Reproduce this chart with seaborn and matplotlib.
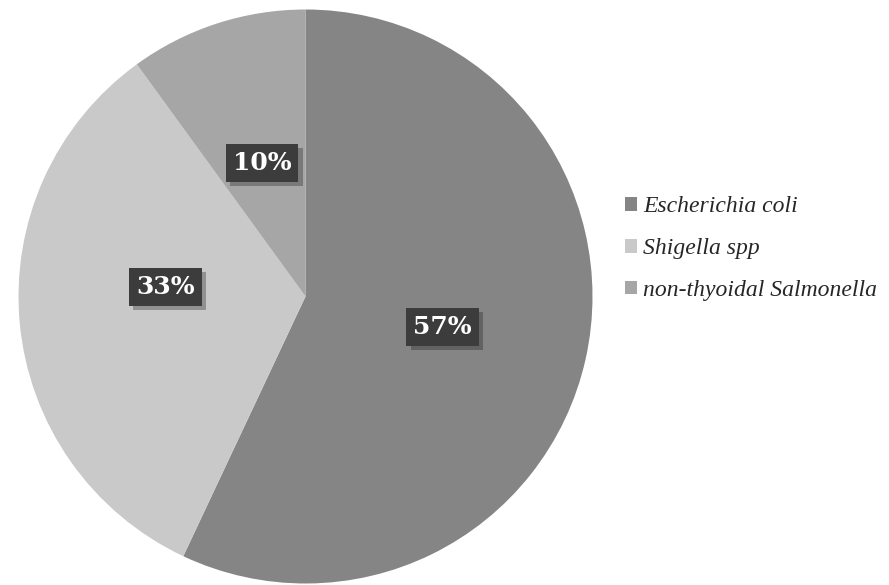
import matplotlib
matplotlib.use("Agg")
import matplotlib.pyplot as plt
import seaborn as sns
from matplotlib import patheffects as pe
from matplotlib.font_manager import FontProperties

sns.set_theme(style="white")

categories = ["Escherichia coli", "Shigella spp", "non-thyoidal Salmonella"]
values = [57, 33, 10]
colors = ["#858585", "#c9c9c9", "#a6a6a6"]

W, H = 889, 585
fig = plt.figure(figsize=(W / 100, H / 100), dpi=100)
fig.patch.set_facecolor("white")

cx, cy, r = 305.5, 296.5, 287
ax = fig.add_axes([(cx - r) / W, (H - cy - r) / H, 2 * r / W, 2 * r / H])
ax.set_facecolor("none")

wedges, texts, autotexts = ax.pie(
    values, colors=colors, startangle=90, counterclock=False,
    autopct=lambda p: f"{p:.0f}%", pctdistance=0.49,
    wedgeprops=dict(linewidth=0, edgecolor="none"),
    textprops=dict(color="white", fontsize=18, fontweight="bold",
                   family=["DejaVu Serif"]),
)
ax.set_xlim(-1, 1)
ax.set_ylim(-1, 1)
ax.set_aspect("equal")
ax.axis("off")

for t in autotexts:
    t.set_bbox(dict(boxstyle="square,pad=0.28", facecolor="#3c3c3c", edgecolor="none"))
    t.get_bbox_patch().set_path_effects([pe.SimplePatchShadow(offset=(3, -3), alpha=0.3), pe.Normal()])

# Excel "best fit" nudges the Shigella label slightly upward
x, y = autotexts[1].get_position()
autotexts[1].set_position((x, y + 0.08))

legend_font = FontProperties(family=["Liberation Serif"], style="italic", size=17)
handles = [plt.Rectangle((0, 0), 1, 1, facecolor=c, edgecolor="none") for c in colors]
leg = fig.legend(handles, categories, loc="upper left",
                 bbox_to_anchor=(616 / W, 1 - 187 / H), frameon=False,
                 prop=legend_font,
                 handlelength=0.5, handleheight=0.5, handletextpad=0.25,
                 labelspacing=0.88, borderaxespad=0)

fig.savefig("out.png", dpi=100, facecolor="white")
